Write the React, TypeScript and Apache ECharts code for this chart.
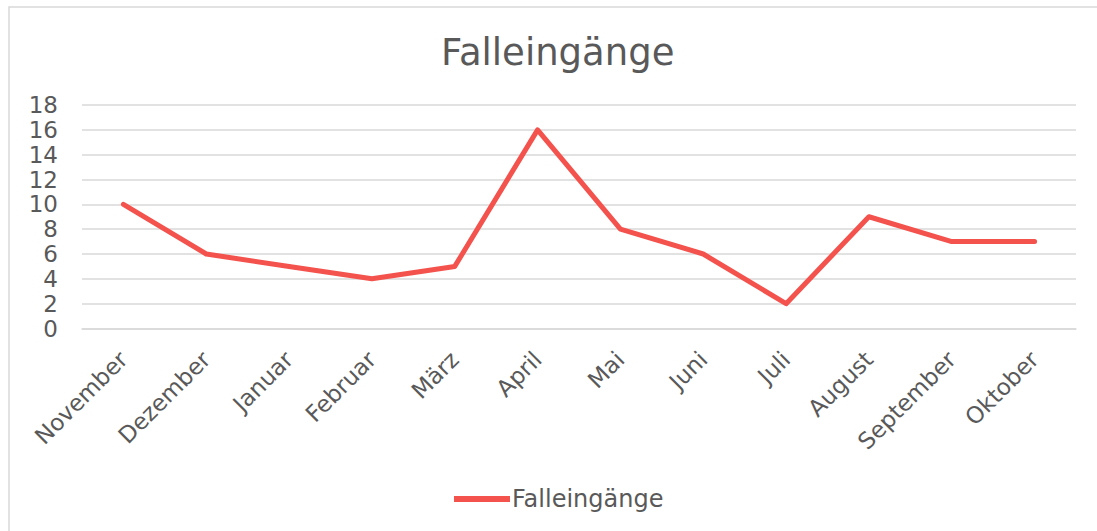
import React, { useEffect, useRef } from "react";
import * as echarts from "echarts";

const categories = ["November", "Dezember", "Januar", "Februar", "März", "April", "Mai", "Juni", "Juli", "August", "September", "Oktober"];
const values = [10, 6, 5, 4, 5, 16, 8, 6, 2, 9, 7, 7];
const seriesName = "Falleingänge";
const titleText = "Falleingänge";

export default function App() {
  const ref = useRef<HTMLDivElement>(null);
  useEffect(() => {
    if (!ref.current) return;
    const chart = echarts.init(ref.current, null, { renderer: "svg" });
    const font = "DejaVu Sans, Verdana, sans-serif";
    const textColor = "#595959";
    chart.setOption({
      animation: false,
      backgroundColor: "#ffffff",
      graphic: [
        {
          type: "rect",
          shape: { x: 9, y: 7, width: 1200, height: 600 },
          style: { fill: "none", stroke: "#d9d9d9", lineWidth: 1.5 },
          silent: true,
        },
      ],
      title: {
        text: titleText,
        left: 436,
        top: 29,
        textStyle: { fontFamily: font, fontSize: 37, fontWeight: "normal", color: textColor },
      },
      legend: {
        bottom: 15,
        left: 449,
        itemWidth: 56,
        itemHeight: 6,
        itemGap: 10,
        icon: "path://M0,0 L56,0 L56,6 L0,6 Z",
        textStyle: { fontFamily: font, fontSize: 24, color: textColor, padding: [0, 0, 0, -3] },
        data: [seriesName],
      },
      grid: { left: 82, right: 21, top: 105, bottom: 202.5, containLabel: false },
      xAxis: {
        type: "category",
        data: categories,
        boundaryGap: true,
        axisLine: { show: true, lineStyle: { color: "#d9d9d9", width: 1.5 } },
        axisTick: { show: false },
        axisLabel: { rotate: 45, fontFamily: font, fontSize: 23, color: textColor, margin: 27, interval: 0 },
      },
      yAxis: {
        type: "value",
        min: 0,
        max: 18,
        interval: 2,
        axisLine: { show: false },
        axisTick: { show: false },
        splitLine: { lineStyle: { color: "#d9d9d9", width: 1.5 } },
        axisLabel: { fontFamily: font, fontSize: 23, color: textColor, margin: 24 },
      },
      series: [
        {
          name: seriesName,
          type: "line",
          data: values,
          symbol: "none",
          lineStyle: { color: "#F4524D", width: 5, cap: "round", join: "round" },
          itemStyle: { color: "#F4524D" },
        },
      ],
    });
    return () => chart.dispose();
  }, []);
  return <div ref={ref} style={{ position: "absolute", left: 0, top: 0, width: 1097, height: 531 }} />;
}
